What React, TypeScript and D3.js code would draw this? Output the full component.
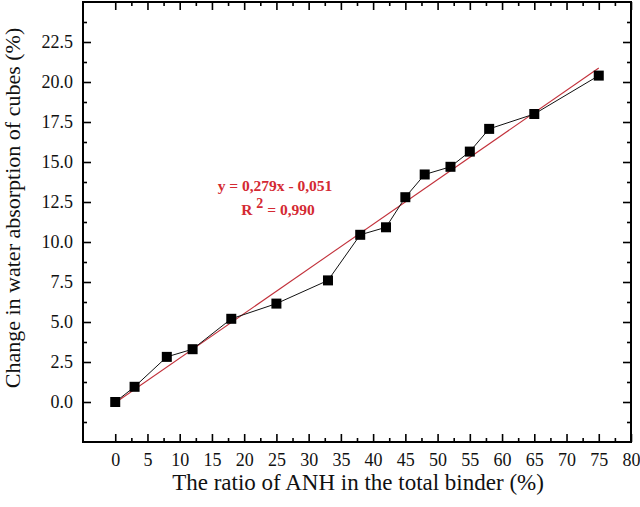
import React, { useRef, useEffect } from "react";
import * as d3 from "d3";

const ratio = [0, 3, 8, 12, 18, 25, 33, 38, 42, 45, 48, 52, 55, 58, 65, 75];
const absorption = [0, 0.95, 2.82, 3.3, 5.2, 6.15, 7.6, 10.45, 10.92, 12.8, 14.22, 14.7, 15.65, 17.07, 18.0, 20.4];

// linear fit y = 0.279x - 0.051
const fitSlope = 0.279;
const fitIntercept = -0.051;
const fitRange = [0, 75];

const xMajor = d3.range(0, 81, 5);
const xMinor = d3.range(2.5, 80, 5);
const yMajor = d3.range(0, 23, 2.5);
const yMinor = d3.range(-1.25, 25, 2.5);

const width = 640;
const height = 507;
const marginLeft = 83;
const marginRight = 9;
const marginTop = 2;
const marginBottom = 65;

const font = "Liberation Serif, Times New Roman, serif";
const red = "#d42a33";

export default function App() {
    const gBottom = useRef<SVGGElement>(null);
    const gTop = useRef<SVGGElement>(null);
    const gLeft = useRef<SVGGElement>(null);
    const gRight = useRef<SVGGElement>(null);

    const x = d3.scaleLinear([-5, 80], [marginLeft, width - marginRight]);
    const y = d3.scaleLinear([-2.5, 25], [height - marginBottom, marginTop]);

    const line = d3.line<number>((d, i) => x(ratio[i]), (d) => y(d));
    const fitLine = d3.line<number>((d) => x(d), (d) => y(fitSlope * d + fitIntercept));

    useEffect(() => {
        const style = (g: d3.Selection<SVGGElement, unknown, null, undefined>) => {
            g.attr("font-family", null);
            g.select(".domain").remove();
            g.selectAll(".tick line").attr("stroke", "#000").attr("stroke-width", 1.6);
            g.selectAll(".tick text").attr("font-family", font).attr("font-size", 18).attr("fill", "#111");
        };

        const b = d3.select(gBottom.current!);
        b.selectAll("*").remove();
        b.append("g").call(d3.axisBottom(x).tickValues(xMajor).tickSize(-8).tickPadding(11).tickFormat(d3.format("d"))).call(style);
        b.append("g").call(d3.axisBottom(x).tickValues(xMinor).tickSize(-4).tickFormat(() => "")).call(style);

        const t = d3.select(gTop.current!);
        t.selectAll("*").remove();
        t.append("g").call(d3.axisTop(x).tickValues(xMajor).tickSize(-8).tickFormat(() => "")).call(style);
        t.append("g").call(d3.axisTop(x).tickValues(xMinor).tickSize(-4).tickFormat(() => "")).call(style);

        const l = d3.select(gLeft.current!);
        l.selectAll("*").remove();
        l.append("g").call(d3.axisLeft(y).tickValues(yMajor).tickSize(-8).tickPadding(10).tickFormat(d3.format(".1f"))).call(style);
        l.append("g").call(d3.axisLeft(y).tickValues(yMinor).tickSize(-4).tickFormat(() => "")).call(style);

        const r = d3.select(gRight.current!);
        r.selectAll("*").remove();
        r.append("g").call(d3.axisRight(y).tickValues(yMajor).tickSize(-8).tickFormat(() => "")).call(style);
        r.append("g").call(d3.axisRight(y).tickValues(yMinor).tickSize(-4).tickFormat(() => "")).call(style);
    }, []);

    const box = 10;

    return (
        <svg width={width} height={height} style={{ position: "absolute", left: 0, top: 0, background: "#fff" }} fontFamily={font}>
            <g ref={gBottom} transform={`translate(0,${height - marginBottom})`} />
            <g ref={gTop} transform={`translate(0,${marginTop})`} />
            <g ref={gLeft} transform={`translate(${marginLeft},0)`} />
            <g ref={gRight} transform={`translate(${width - marginRight},0)`} />
            <rect x={marginLeft} y={marginTop} width={width - marginLeft - marginRight} height={height - marginTop - marginBottom}
                fill="none" stroke="#000" strokeWidth={2} />

            <path d={fitLine(fitRange)!} fill="none" stroke="#c2303a" strokeWidth={1.1} />
            <path d={line(absorption)!} fill="none" stroke="#111" strokeWidth={1} />
            <g fill="#000">
                {absorption.map((d, i) => (
                    <rect key={i} x={x(ratio[i]) - box / 2} y={y(d) - box / 2} width={box} height={box} />
                ))}
            </g>

            <g fontWeight="bold" fill={red} fontSize={15.5}>
                <text x={275} y={191} textAnchor="middle">y = 0,279x - 0,051</text>
                <text x={278} y={215} textAnchor="middle">
                    R<tspan fontSize={14} dy={-7} dx={4}>2</tspan><tspan dy={7}> = 0,990</tspan>
                </text>
            </g>

            <text x={358} y={490} textAnchor="middle" fontSize={23} fill="#111">
                The ratio of ANH in the total binder (%)
            </text>
            <text transform={`translate(20,208) rotate(-90)`} textAnchor="middle" fontSize={22} fill="#111">
                Change in water absorption of cubes (%)
            </text>
        </svg>
    );
}
